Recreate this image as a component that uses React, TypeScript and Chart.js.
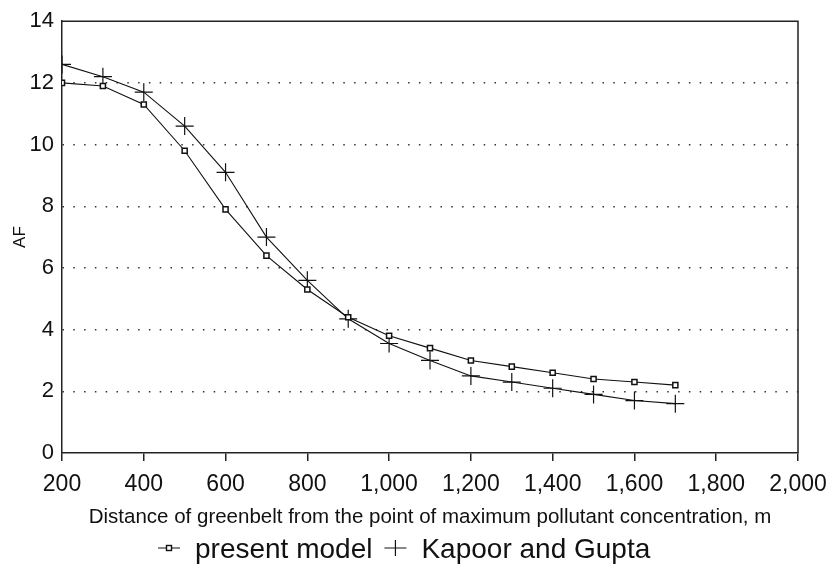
import { useEffect, useRef } from "react";
import { Chart, registerables } from "chart.js";

Chart.register(...registerables);

// Distance of greenbelt from the point of maximum pollutant concentration (m)
const distances = [200, 300, 400, 500, 600, 700, 800, 900, 1000, 1100, 1200, 1300, 1400, 1500, 1600, 1700];

// Attenuation factor, present model
const presentModel = [12.0, 11.9, 11.3, 9.8, 7.9, 6.4, 5.3, 4.4, 3.8, 3.4, 3.0, 2.8, 2.6, 2.4, 2.3, 2.2];

// Attenuation factor, Kapoor and Gupta
const kapoorGupta = [12.6, 12.2, 11.7, 10.6, 9.1, 7.0, 5.6, 4.35, 3.55, 3.0, 2.5, 2.3, 2.1, 1.9, 1.7, 1.6];

const seriesNames = ["present model", "Kapoor and Gupta"];
const xAxisTitle = "Distance of greenbelt from the point of maximum pollutant concentration, m";
const yAxisTitle = "AF";

const xRange = { min: 200, max: 2000, step: 200 };
const yRange = { min: 0, max: 14, step: 2 };

const FONT = "'Liberation Sans', Arial, Helvetica, sans-serif";
const INK = "#111";

// Draws the small legend glyph for a series: a short line with its marker.
function drawLegendGlyph(ctx: CanvasRenderingContext2D, style: string, x: number, w: number, cy: number) {
  ctx.strokeStyle = INK;
  ctx.lineWidth = 1;
  ctx.beginPath();
  ctx.moveTo(x, cy);
  ctx.lineTo(x + w, cy);
  ctx.stroke();
  const cx = x + w / 2;
  if (style === "rect") {
    ctx.fillStyle = "#fff";
    ctx.lineWidth = 1.4;
    ctx.fillRect(cx - 2.5, cy - 2.5, 5, 5);
    ctx.strokeRect(cx - 2.5, cy - 2.5, 5, 5);
  } else {
    ctx.lineWidth = 1.2;
    ctx.beginPath();
    ctx.moveTo(cx, cy - 8);
    ctx.lineTo(cx, cy + 8);
    ctx.stroke();
  }
}

const seriesLegend = {
  id: "seriesLegend",
  afterDraw(chart: any, _args: any, opts: any) {
    const { ctx } = chart;
    ctx.save();
    ctx.font = `${opts.fontSize}px ${FONT}`;
    ctx.textBaseline = "alphabetic";
    ctx.textAlign = "left";
    let x = opts.x;
    const baseline = opts.baseline;
    chart.data.datasets.forEach((ds: any) => {
      drawLegendGlyph(ctx, ds.pointStyle, x, opts.glyphWidth, baseline - 10);
      x += opts.glyphWidth + opts.glyphGap;
      ctx.fillStyle = INK;
      ctx.fillText(ds.label, x, baseline);
      x += ctx.measureText(ds.label).width + opts.itemGap;
    });
    ctx.restore();
  },
};

// Top and right edges of the plot frame.
const plotFrame = {
  id: "plotFrame",
  afterDraw(chart: any) {
    const { ctx, chartArea } = chart;
    ctx.save();
    ctx.strokeStyle = "#222";
    ctx.lineWidth = 1.5;
    ctx.beginPath();
    ctx.moveTo(chartArea.left, chartArea.top);
    ctx.lineTo(chartArea.right, chartArea.top);
    ctx.lineTo(chartArea.right, chartArea.bottom);
    ctx.stroke();
    ctx.restore();
  },
};

export default function App() {
  const canvasRef = useRef<HTMLCanvasElement | null>(null);

  useEffect(() => {
    if (!canvasRef.current) return;
    const chart = new Chart(canvasRef.current, {
      type: "line",
      data: {
        datasets: [
          {
            label: seriesNames[0],
            data: distances.map((d, i) => ({ x: d, y: presentModel[i] })),
            borderColor: INK,
            borderWidth: 1.1,
            pointStyle: "rect",
            pointRadius: 3.6,
            pointBackgroundColor: "#fff",
            pointBorderColor: INK,
            pointBorderWidth: 1.5,
            tension: 0,
          },
          {
            label: seriesNames[1],
            data: distances.map((d, i) => ({ x: d, y: kapoorGupta[i] })),
            borderColor: INK,
            borderWidth: 1.1,
            pointStyle: "cross",
            pointRadius: 9,
            pointBorderColor: INK,
            pointBorderWidth: 1.2,
            tension: 0,
          },
        ],
      },
      plugins: [seriesLegend, plotFrame],
      options: {
        animation: false,
        responsive: true,
        maintainAspectRatio: false,
        layout: { padding: { left: 0, top: 17, right: 35, bottom: 33 } },
        plugins: {
          legend: { display: false },
          tooltip: { enabled: false },
          seriesLegend: {
            x: 158,
            baseline: 558,
            fontSize: 28,
            glyphWidth: 22,
            glyphGap: 15,
            itemGap: 12,
          },
        } as any,
        scales: {
          x: {
            type: "linear",
            min: xRange.min,
            max: xRange.max,
            afterFit: (scale: any) => {
              scale.height = 81;
              scale.paddingLeft = 0;
              scale.paddingRight = 0;
            },
            afterBuildTicks: (scale: any) => {
              const ticks = [];
              for (let v = xRange.min; v <= xRange.max; v += xRange.step) ticks.push({ value: v });
              scale.ticks = ticks;
            },
            ticks: {
              color: INK,
              font: { family: FONT, size: 23 },
              padding: 10,
              maxRotation: 0,
              autoSkip: false,
              callback: (v: any) => Number(v).toLocaleString("en-US"),
            },
            grid: {
              drawOnChartArea: false,
              drawTicks: true,
              tickLength: 8,
              color: "#222",
              lineWidth: 1.5,
            },
            border: { display: true, color: "#222", width: 1.5 },
            title: {
              display: true,
              text: xAxisTitle,
              color: INK,
              font: { family: FONT, size: 20.5 },
              padding: { top: 0, bottom: 4 },
            },
          },
          y: {
            type: "linear",
            min: yRange.min,
            max: yRange.max,
            afterFit: (scale: any) => {
              scale.width = 62;
            },
            ticks: {
              stepSize: yRange.step,
              color: INK,
              font: { family: FONT, size: 22 },
              padding: 8,
            },
            grid: {
              drawTicks: false,
              lineWidth: 1.5,
              color: (c: any) =>
                c.tick && (c.tick.value === yRange.min || c.tick.value === yRange.max)
                  ? "rgba(0,0,0,0)"
                  : "#333",
            },
            border: { display: true, color: "#222", width: 1.5, dash: [1.5, 9.3] },
            title: {
              display: true,
              text: yAxisTitle,
              color: INK,
              font: { family: FONT, size: 17 },
              padding: { top: 10, bottom: 0 },
            },
          },
        },
      },
    });
    return () => chart.destroy();
  }, []);

  return (
    <div style={{ position: "absolute", left: 0, top: 0, width: 833, height: 567, background: "#fff" }}>
      <canvas ref={canvasRef} />
    </div>
  );
}
